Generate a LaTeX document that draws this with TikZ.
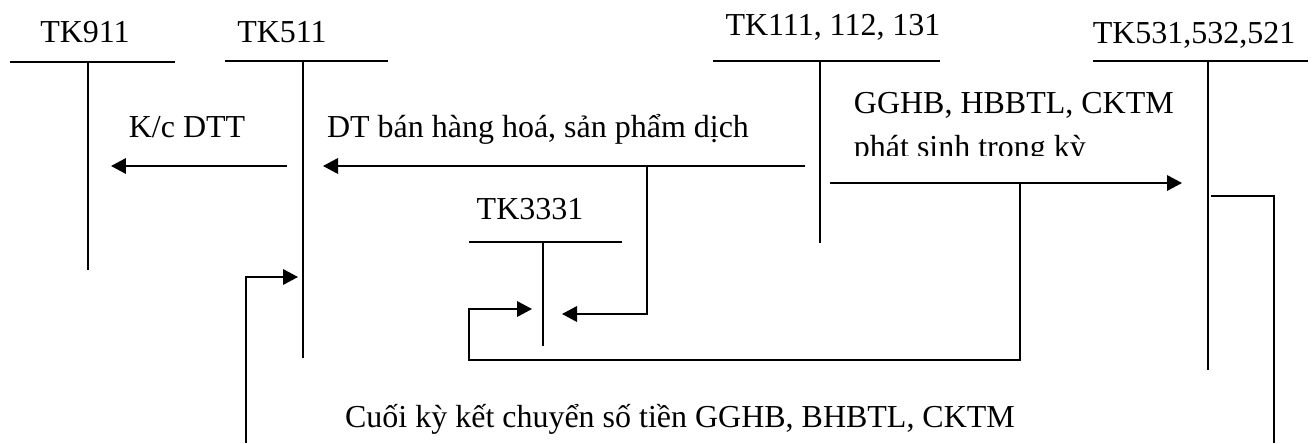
\documentclass[tikz,border=0pt]{standalone}
\usepackage{fontspec}
\setmainfont{Liberation Serif}
\usetikzlibrary{arrows.meta}
\begin{document}
\begin{tikzpicture}[x=0.02cm,y=-0.02cm, line width=1.1pt,
  lbl/.style={font=\fontsize{18.2}{21}\selectfont, inner sep=0, anchor=base},
  arr/.style={-{Triangle[length=0.3cm,width=0.31cm]}}]
\useasboundingbox (0,0) rectangle (1315,443);
% account labels
\node[lbl] (t911) at (85,42) {TK911};
\node[lbl] (t511) at (282,42) {TK511};
\node[lbl] (t111) at (833,35) {TK111, 112, 131};
\node[lbl] (t531) at (1194,43) {TK531,532,521};
\node[lbl] (t3331) at (530,219) {TK3331};
% T-account coordinates
\coordinate (a911l) at (10,62);  \coordinate (a911r) at (175,62);
\coordinate (a911t) at (88,62);  \coordinate (a911b) at (88,270);
\coordinate (a511l) at (225,61); \coordinate (a511r) at (388,61);
\coordinate (a511t) at (303,61); \coordinate (a511b) at (303,358);
\coordinate (a111l) at (713,61); \coordinate (a111r) at (940,61);
\coordinate (a111t) at (820,61); \coordinate (a111b) at (820,243);
\coordinate (a531l) at (1093,61); \coordinate (a531r) at (1308,61);
\coordinate (a531t) at (1208,61); \coordinate (a531b) at (1208,370);
\coordinate (a333l) at (469,242); \coordinate (a333r) at (622,242);
\coordinate (a333t) at (543,242); \coordinate (a333b) at (543,346);
\draw (a911l) -- (a911r) (a911t) -- (a911b);
\draw (a511l) -- (a511r) (a511t) -- (a511b);
\draw (a111l) -- (a111r) (a111t) -- (a111b);
\draw (a531l) -- (a531r) (a531t) -- (a531b);
\draw (a333l) -- (a333r) (a333t) -- (a333b);
% flow coordinates
\coordinate (k1s) at (287,166); \coordinate (k1e) at (111,166);
\coordinate (d1s) at (805,166); \coordinate (d1e) at (323,166);
\coordinate (d2s) at (647,166); \coordinate (d2m) at (647,314); \coordinate (d2e) at (562,314);
\coordinate (g1s) at (830,183); \coordinate (g1e) at (1182,183);
\coordinate (g2s) at (1020,183); \coordinate (g2a) at (1020,360); \coordinate (g2b) at (469,360);
\coordinate (g2c) at (469,309); \coordinate (g2e) at (532,309);
\coordinate (c1s) at (1211,196); \coordinate (c1a) at (1274,196); \coordinate (c1e) at (1274,443);
\coordinate (c2s) at (246,443); \coordinate (c2a) at (246,277); \coordinate (c2e) at (298,277);
% connectors
\draw[arr] (k1s) -- (k1e);
\draw[arr] (d1s) -- (d1e);
\draw[arr] (d2s) -- (d2m) -- (d2e);
\draw[arr] (g1s) -- (g1e);
\draw[arr] (g2s) -- (g2a) -- (g2b) -- (g2c) -- (g2e);
\draw (c1s) -- (c1a) -- (c1e);
\draw[arr] (c2s) -- (c2a) -- (c2e);
% flow labels
\node[lbl] (lk) at (187,137) {K/c DTT};
\node[lbl] (ld) at (538,137) {DT bán hàng hoá, sản phẩm dịch};
\node[lbl,anchor=base west] (lg1) at (853,113) {GGHB, HBBTL, CKTM};
\begin{scope}
\clip (840,120) rectangle (1110,155.5);
\node[lbl,anchor=base west] (lg2) at (853,157) {phát sinh trong kỳ};
\end{scope}
\node[lbl] (lc) at (680,427) {Cuối kỳ kết chuyển số tiền GGHB, BHBTL, CKTM};
\end{tikzpicture}
\end{document}
